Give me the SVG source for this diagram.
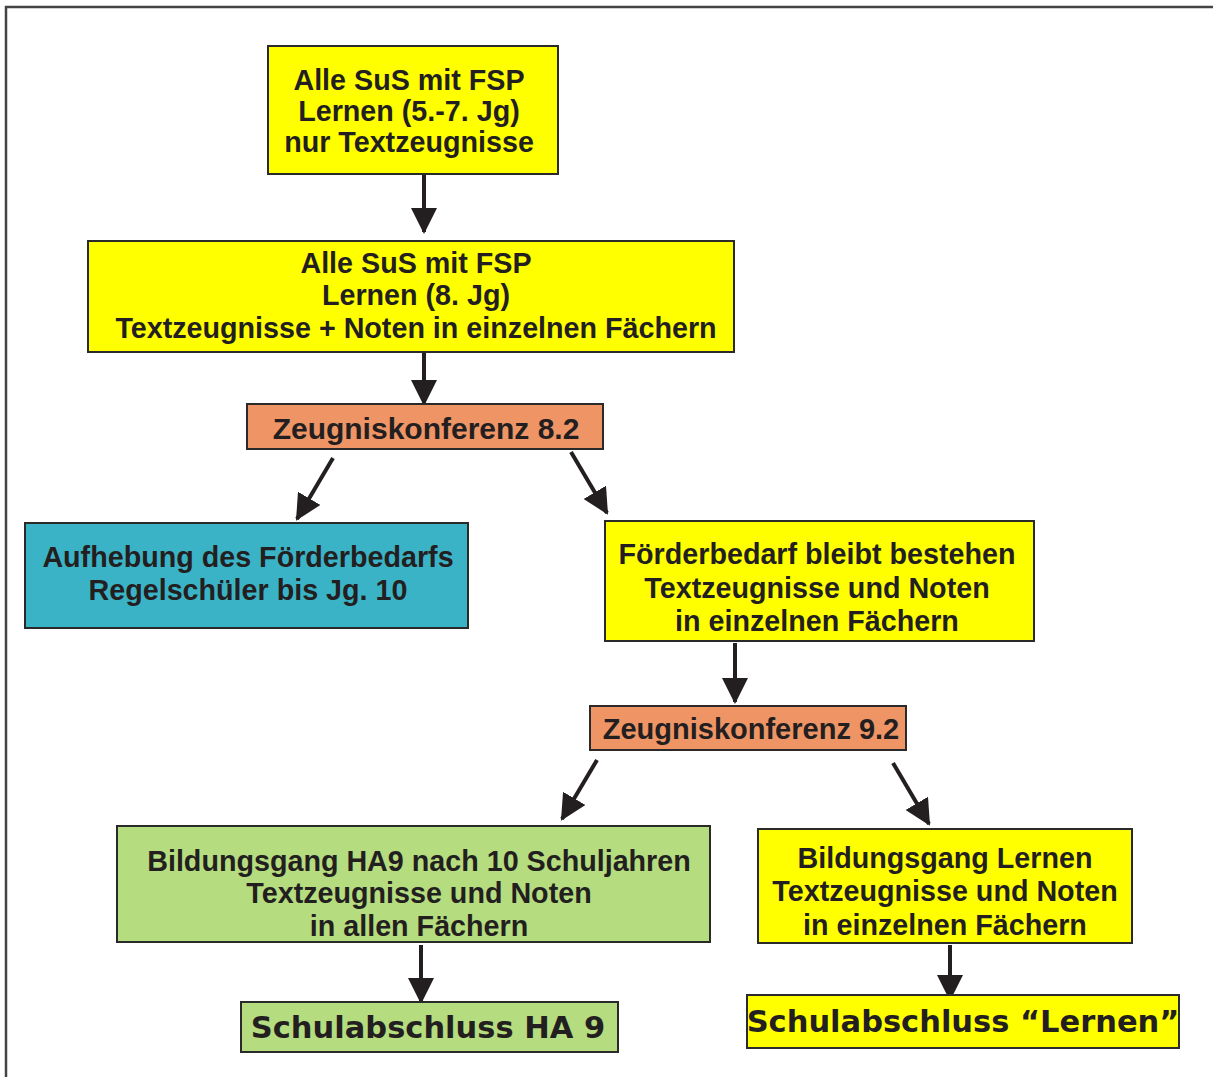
<svg xmlns="http://www.w3.org/2000/svg" width="1213" height="1077" viewBox="0 0 1213 1077">
<defs>
<style>
.b{stroke:#2a2a2a;stroke-width:2}
.y{fill:#ffff00}
.o{fill:#ef9465}
.c{fill:#3bb3c6}
.g{fill:#b5dc7e}
text{font-family:"Liberation Sans",Arial,sans-serif;font-weight:bold;font-size:28.7px;fill:#231f20;text-anchor:middle;dominant-baseline:central}
.k{font-size:30px}
.k2{font-size:29px}
.big{font-family:"DejaVu Sans","Liberation Sans",sans-serif;font-size:30.5px}
.arr{stroke:#231f20;stroke-width:4;fill:none;marker-end:url(#ah)}
</style>
<marker id="ah" markerUnits="userSpaceOnUse" markerWidth="26" markerHeight="26" viewBox="0 0 26 26" refX="24" refY="13" orient="auto">
<path d="M0,0 L26,13 L0,26 Z" fill="#231f20"/>
</marker>
</defs>
<rect x="0" y="0" width="1213" height="1077" fill="#fff"/>
<rect x="6" y="7" width="1215" height="1085" fill="none" stroke="#444" stroke-width="2.5"/>

<g id="connectors">
<line class="arr" x1="424" y1="175" x2="424" y2="232"/>
<line class="arr" x1="424" y1="353" x2="424" y2="404"/>
<line class="arr" x1="333" y1="458" x2="297" y2="519"/>
<line class="arr" x1="571" y1="452" x2="607" y2="513"/>
<line class="arr" x1="735" y1="643" x2="735" y2="702"/>
<line class="arr" x1="597" y1="760" x2="562" y2="819"/>
<line class="arr" x1="893" y1="763" x2="929" y2="824"/>
<line class="arr" x1="421" y1="945" x2="421" y2="1002"/>
<line class="arr" x1="950" y1="945" x2="950" y2="999"/>
</g>

<g id="n1"><rect class="b y" x="268" y="46" width="290" height="128"/>
<text x="409" y="80">Alle SuS mit FSP</text><text x="409" y="111">Lernen (5.-7. Jg)</text><text x="409" y="142">nur Textzeugnisse</text></g>

<g id="n2"><rect class="b y" x="88" y="241" width="646" height="111"/>
<text x="416" y="263">Alle SuS mit FSP</text><text x="416" y="295">Lernen (8. Jg)</text><text x="416" y="328">Textzeugnisse + Noten in einzelnen Fächern</text></g>

<g id="n3"><rect class="b o" x="247" y="404" width="356" height="45"/>
<text class="k" x="426" y="428">Zeugniskonferenz 8.2</text></g>

<g id="n4"><rect class="b c" x="25" y="523" width="443" height="105"/>
<text x="248" y="557">Aufhebung des Förderbedarfs</text><text x="248" y="590">Regelschüler bis Jg. 10</text></g>

<g id="n5"><rect class="b y" x="605" y="521" width="429" height="120"/>
<text x="817" y="554">Förderbedarf bleibt bestehen</text><text x="817" y="588">Textzeugnisse und Noten</text><text x="817" y="621">in einzelnen Fächern</text></g>

<g id="n6"><rect class="b o" x="590" y="706" width="316" height="44"/>
<text class="k2" x="751" y="729">Zeugniskonferenz 9.2</text></g>

<g id="n7"><rect class="b g" x="117" y="826" width="593" height="116"/>
<text x="419" y="861">Bildungsgang HA9 nach 10 Schuljahren</text><text x="419" y="893">Textzeugnisse und Noten</text><text x="419" y="926">in allen Fächern</text></g>

<g id="n8"><rect class="b y" x="758" y="829" width="374" height="114"/>
<text x="945" y="858">Bildungsgang Lernen</text><text x="945" y="891">Textzeugnisse und Noten</text><text x="945" y="925">in einzelnen Fächern</text></g>

<g id="n9"><rect class="b g" x="241" y="1002" width="377" height="50"/>
<text class="big" x="428" y="1027">Schulabschluss HA 9</text></g>

<g id="n10"><rect class="b y" x="747" y="995" width="432" height="53"/>
<text class="big" x="963" y="1021">Schulabschluss “Lernen”</text></g>
</svg>
